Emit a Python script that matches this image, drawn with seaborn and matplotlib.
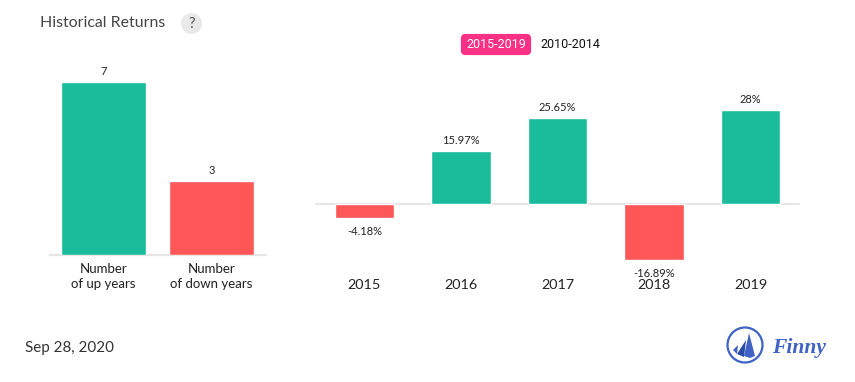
import matplotlib
matplotlib.use("Agg")
import matplotlib.pyplot as plt
from matplotlib.patches import Circle, FancyBboxPatch, Polygon
import seaborn as sns

count_labels = ["Number\nof up years", "Number\nof down years"]
count_values = [7, 3]
count_kinds = ["up", "down"]
years = ["2015", "2016", "2017", "2018", "2019"]
returns = [-4.18, 15.97, 25.65, -16.89, 28]
return_labels = ["-4.18%", "15.97%", "25.65%", "-16.89%", "28%"]
return_kinds = ["down", "up", "up", "down", "up"]
palette = {"up": "#1abc9c", "down": "#ff5757"}

W, H = 855, 382
sns.set_theme(style="white")
plt.rcParams["font.family"] = ["Lato", "DejaVu Sans"]
fig = plt.figure(figsize=(W / 100, H / 100), dpi=100, facecolor="white")

def box(x0, y0, x1, y1):
    return fig.add_axes([x0 / W, 1 - y1 / H, (x1 - x0) / W, (y1 - y0) / H])

def style(ax):
    sns.despine(ax=ax, left=True, bottom=True)
    ax.set_xlabel(""); ax.set_ylabel("")
    ax.set_yticks([])
    ax.patch.set_alpha(0)
    if ax.get_legend(): ax.get_legend().remove()

# Left panel
ax1 = box(50, 60, 266, 255)
sns.barplot(x=count_labels, y=count_values, hue=count_kinds, palette=palette,
            dodge=False, width=0.78, saturation=1, legend=False, ax=ax1)
ax1.set_xlim(-0.495, 1.505)
ax1.set_ylim(0, 7 * 195 / 173.2)
style(ax1)
ax1.axhline(0, color="#e6e6e6", lw=1.6, zorder=0, clip_on=False)
ax1.tick_params(axis="x", length=0, pad=6, labelsize=9.5, labelcolor="#222222")
for t in ax1.get_xticklabels():
    t.set_linespacing(1.25)
for i, v in enumerate(count_values):
    ax1.annotate(str(v), (i, v), xytext=(0, 5), textcoords="offset pixels",
                 ha="center", va="bottom", fontsize=8, color="#222222")

# Right panel
ax2 = box(316, 60, 799, 275)
sns.barplot(x=years, y=returns, hue=return_kinds, palette=palette,
            dodge=False, width=0.615, saturation=1, legend=False, ax=ax2)
ax2.set_xlim(-0.5, 4.5)
ax2.set_ylim(-71 / 3.34, 144 / 3.34)
style(ax2)
ax2.axhline(0, color="#e6e6e6", lw=1.6, zorder=0, clip_on=False)
ax2.tick_params(axis="x", length=0, pad=3, labelsize=10.4, labelcolor="#222222")
for i, (v, s) in enumerate(zip(returns, return_labels)):
    off = 5 if v > 0 else -8
    ax2.annotate(s, (i, v), xytext=(0, off), textcoords="offset pixels", ha="center",
                 va="bottom" if v > 0 else "top", fontsize=8, color="#222222",
                 zorder=5, annotation_clip=False)

# Overlay in pixel coordinates: title, buttons, footer, logo
ov = fig.add_axes([0, 0, 1, 1], zorder=10)
ov.set_xlim(0, W); ov.set_ylim(H, 0); ov.axis("off"); ov.patch.set_alpha(0)
ov.text(40, 23, "Historical Returns", fontsize=11.45, color="#444444", va="center")
ov.add_patch(Circle((191.5, 23.5), 10.5, fc="#e9e9e9", ec="none"))
ov.text(191.5, 23.5, "?", fontsize=10.5, color="#555555", ha="center", va="center")
ov.add_patch(FancyBboxPatch((463, 36), 66, 17, boxstyle="round,pad=0,rounding_size=2",
                            fc="#fb3185", ec="#fb3185", lw=3, joinstyle="round"))
ov.text(496, 45, "2015-2019", fontsize=9, color="white", ha="center", va="center", family="Roboto")
ov.text(570, 45, "2010-2014", fontsize=9, color="#111111", ha="center", va="center", family="Roboto")
ov.text(25, 348, "Sep 28, 2020", fontsize=10.9, color="#333333", va="center")

blue = "#3f62c4"
ov.add_patch(Circle((745, 345), 17.5, fc="none", ec=blue, lw=1.6))
ov.add_patch(Polygon([(733, 350), (738, 345), (737, 354)], fc=blue, ec="none"))
ov.add_patch(Polygon([(737, 354), (746, 340), (744, 357)], fc="#2c4aa8", ec="none"))
ov.add_patch(Polygon([(744, 356), (749, 333), (755, 356), (750, 358)], fc=blue, ec="none"))
ov.text(799, 348, "Finny", fontsize=15.5, color=blue, ha="center", va="center",
        family="Liberation Serif", style="italic", weight="bold")

fig.savefig("out.png", dpi=100, facecolor="white")
